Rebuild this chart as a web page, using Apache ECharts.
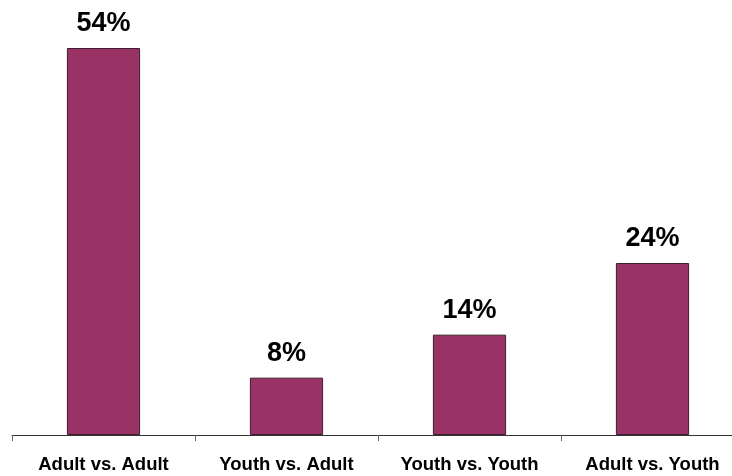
<!DOCTYPE html>
<html><head><meta charset="utf-8">
<script src="https://cdn.jsdelivr.net/npm/echarts@6/dist/echarts.min.js"></script>
<style>html,body{margin:0;padding:0;background:#fff;overflow:hidden}#c{width:745px;height:476px}</style>
</head><body><div id="c"></div>
<script>
const categories = ['Adult vs. Adult', 'Youth vs. Adult', 'Youth vs. Youth', 'Adult vs. Youth'];
const values = [54, 8, 14, 24];
const chart = echarts.init(document.getElementById('c'));
chart.setOption({
  animation: false,
  grid: { left: 12, right: 1, top: 5, bottom: 41, containLabel: false },
  xAxis: {
    type: 'category', data: categories,
    axisLine: { lineStyle: { color: '#333', width: 1 } },
    axisTick: { show: true, length: 6, lineStyle: { color: '#666', width: 1 } },
    axisLabel: { color: '#000', fontFamily: 'Liberation Sans, Arial', fontWeight: 'bold', fontSize: 18.5, margin: 20, interval: 0 }
  },
  yAxis: { type: 'value', min: 0, max: 60, show: false, splitLine: { show: false } },
  series: [{
    type: 'bar', data: values, barWidth: '40%',
    itemStyle: { color: '#993366', borderColor: '#3d1f30', borderWidth: 1 },
    label: { show: true, position: 'top', distance: 11, formatter: '{c}%', color: '#000',
      fontFamily: 'Liberation Sans, Arial', fontWeight: 'bold', fontSize: 27 }
  }]
});
</script></body></html>
